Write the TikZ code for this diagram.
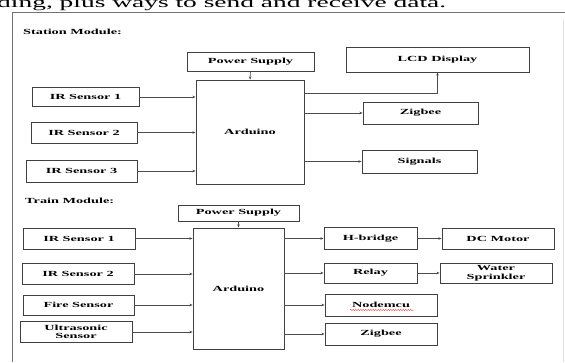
\documentclass[tikz,border=0pt]{standalone}
\usepackage{fontspec}
\usetikzlibrary{arrows.meta,decorations.pathmorphing}
\newfontfamily\bxfont[FakeStretch=1.83]{Liberation Serif}
\newfontfamily\topfont[FakeStretch=1.83]{Liberation Serif}
\begin{document}
\begin{tikzpicture}[x=1pt,y=-1pt,
  blk/.style={draw=black!75, line width=0.9pt, inner sep=0pt, align=center,
    font=\bxfont\bfseries\fontsize{7.8}{8.6}\selectfont},
  arr/.style={draw=black!70, line width=0.6pt, -{Stealth[length=3.2pt,width=2.6pt]}},
  ttl/.style={anchor=west, inner sep=0pt, font=\bxfont\bfseries\fontsize{7.8}{8.6}\selectfont}]
\useasboundingbox (0,0) rectangle (565,362);
\fill[white] (0,0) rectangle (565,362);
\begin{scope}
\clip (0,0) rectangle (565,362);
\node[anchor=base west, inner sep=0pt, font=\topfont\fontsize{15}{16}\selectfont] (toptext) at (-3,7) {ding, plus ways to send and receive data.};
\end{scope}
% frame
\draw[black!55, line width=0.8pt] (12,362) -- (12,12) -- (565,12);
\draw[black!12, line width=0.8pt] (563,20) -- (563,362);

% Station module
\node[ttl] (stitle) at (23,32) {Station Module:};
\node[blk, minimum width=127pt, minimum height=19pt] (sps) at (250.5,61.5) {Power Supply};
\node[blk, minimum width=108pt, minimum height=104pt] (sard) at (250,132) {Arduino};
\node[blk, minimum width=107pt, minimum height=19pt] (sir1) at (85.5,97) {IR Sensor 1};
\node[blk, minimum width=106pt, minimum height=21pt] (sir2) at (84,132.5) {IR Sensor 2};
\node[blk, minimum width=111pt, minimum height=22pt] (sir3) at (81.5,171) {IR Sensor 3};
\node[blk, minimum width=183pt, minimum height=25pt] (slcd) at (437.5,59.5) {LCD Display};
\node[blk, minimum width=115pt, minimum height=22pt] (szig) at (420.5,113) {Zigbee};
\node[blk, minimum width=115pt, minimum height=23pt] (ssig) at (419.5,161.5) {Signals};
\coordinate (slcdout) at (304,93);

\draw[arr] (sps.south) -- (sard.north);
\draw[arr] (sir1.east) -- (sir1.east -| sard.west);
\draw[arr] (sir2.east) -- (sir2.east -| sard.west);
\draw[arr] (sir3.east) -- (sir3.east -| sard.west);
\draw[arr] (slcdout) -| (slcd.south);
\draw[arr] (sard.east |- szig.west) -- (szig.west);
\draw[arr] (sard.east |- ssig.west) -- (ssig.west);

% Train module
\node[ttl] (ttitle) at (25,201) {Train Module:};
\node[blk, minimum width=121pt, minimum height=16pt] (tps) at (238.5,213) {Power Supply};
\node[blk, minimum width=91pt, minimum height=121pt] (tard) at (238.5,288.5) {Arduino};
\node[blk, minimum width=112pt, minimum height=21pt] (tir1) at (79,238.5) {IR Sensor 1};
\node[blk, minimum width=112pt, minimum height=21pt] (tir2) at (78,274) {IR Sensor 2};
\node[blk, minimum width=111pt, minimum height=20pt] (tfire) at (78.5,305) {Fire Sensor};
\node[blk, minimum width=112pt, minimum height=21pt] (tult) at (76,332) {Ultrasonic\\Sensor};
\node[blk, minimum width=93pt, minimum height=22pt] (thb) at (370.5,238.5) {H-bridge};
\node[blk, minimum width=112pt, minimum height=21pt] (tdc) at (498,238.5) {DC Motor};
\node[blk, minimum width=93pt, minimum height=20pt] (trel) at (370.5,273) {Relay};
\node[blk, minimum width=112pt, minimum height=20pt] (twat) at (496,273) {Water\\Sprinkler};
\node[blk, minimum width=112pt, minimum height=22pt] (tnode) at (381,305) {Nodemcu};
\node[blk, minimum width=112pt, minimum height=22pt] (tzig) at (381,334) {Zigbee};

\draw[arr] (tps.south) -- (tard.north);
\draw[arr] (tir1.east) -- (tir1.east -| tard.west);
\draw[arr] (tir2.east) -- (tir2.east -| tard.west);
\draw[arr] (tfire.east) -- (tfire.east -| tard.west);
\draw[arr] (tult.east) -- (tult.east -| tard.west);
\draw[arr] (tard.east |- thb.west) -- (thb.west);
\draw[arr] (tard.east |- trel.west) -- (trel.west);
\draw[arr] (tard.east |- tnode.west) -- (tnode.west);
\draw[arr] (tard.east |- tzig.west) -- (tzig.west);
\draw[arr] (thb.east) -- (tdc.west);
\draw[arr] (trel.east) -- (twat.west);
% spell-check squiggle under Nodemcu
\draw[red!80, line width=0.4pt, decorate, decoration={snake, amplitude=0.6pt, segment length=2.5pt}]
  ([xshift=-31pt,yshift=-5pt]tnode.center) -- ([xshift=33pt,yshift=-5pt]tnode.center);
\end{tikzpicture}
\end{document}
